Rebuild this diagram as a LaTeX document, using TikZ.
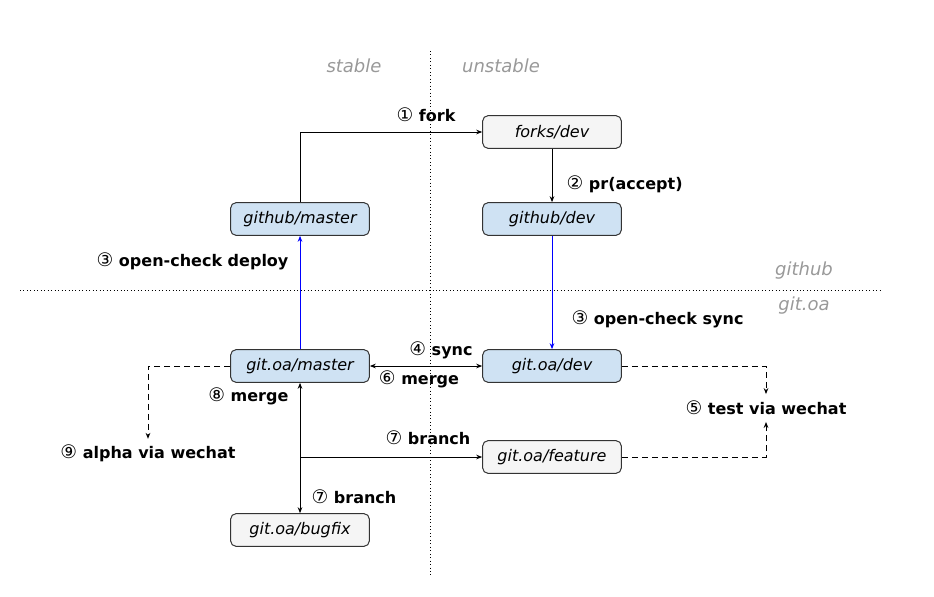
\documentclass[tikz,border=0pt]{standalone}
\usepackage{fontspec}
\setmainfont{DejaVu Sans}
\usepackage{tikz}
\usetikzlibrary{positioning, arrows.meta}
\definecolor{boxblue}{HTML}{CFE2F3}
\definecolor{boxgrey}{HTML}{F5F5F5}
\definecolor{boxline}{HTML}{333333}
\definecolor{zonegrey}{HTML}{999999}
\newcommand{\stepno}[1]{{\mdseries\fontsize{14}{14}\selectfont #1}}

\begin{document}
\begin{tikzpicture}[
    % one unit is one pixel of the sketch
    x=0.75pt, y=-0.75pt,
    >={Stealth[length=4.5pt,width=3.5pt]},
    block/.style={rectangle, draw=boxline, line width=0.75pt, rounded corners=4pt, minimum width=104pt, minimum height=24.5pt, text centered, font=\fontsize{12}{14}\selectfont\itshape},
    blueblock/.style={block, fill=boxblue},
    greyblock/.style={block, fill=boxgrey},
    steplabel/.style={inner sep=1pt, font=\fontsize{12}{14}\selectfont\bfseries},
    zone/.style={text=zonegrey, font=\fontsize{13.5}{16}\selectfont\itshape},
    arrow/.style={line width=0.75pt,->},
    bluearrow/.style={arrow, draw=blue},
    dasharrow/.style={arrow, dash pattern=on 4.5pt off 3pt},
    divider/.style={dotted, line width=0.6pt}
]
\useasboundingbox (0,0) rectangle (934,596);
% Zones
\draw [divider] (430,51) -- (430,575);
\draw [divider] (20,290) -- (880,290);
\node (stable) [zone] at (354,66) {stable};
\node (unstable) [zone] at (501,66) {unstable};
\node (github) [zone] at (804,271) {github};
\node (gitoa) [zone] at (804,306) {git.oa};
% Blocks
\node (forks) [greyblock] at (552,132) {forks/dev};
\node (ghdev) [blueblock] at (552,219) {github/dev};
\node (ghmaster) [blueblock] at (300,219) {github/master};
\node (gomaster) [blueblock] at (300,366) {git.oa/master};
\node (godev) [blueblock] at (552,366) {git.oa/dev};
\node (feature) [greyblock] at (552,457) {git.oa/feature};
\node (bugfix) [greyblock] at (300,530) {git.oa/bugfix};
% Labels
\node (fork) [steplabel] at (426,115) {\stepno{①} fork};
\node (pr) [steplabel, anchor=west] at (565,184) {\stepno{②} pr(accept)};
\node (deploy) [steplabel, anchor=east] at (290,261) {\stepno{③} open-check deploy};
\node (sync) [steplabel, anchor=west] at (570,319) {\stepno{③} open-check sync};
\node (syncdev) [steplabel] at (441,350) {\stepno{④} sync};
\node (mergedev) [steplabel] at (419,379) {\stepno{⑥} merge};
\node (mergefix) [steplabel, anchor=east] at (290,396) {\stepno{⑧} merge};
\node (alpha) [steplabel] at (148,453) {\stepno{⑨} alpha via wechat};
\node (test) [steplabel] at (766,408) {\stepno{⑤} test via wechat};
\node (brfeature) [steplabel] at (428,438) {\stepno{⑦} branch};
\node (brfix) [steplabel] at (354,497) {\stepno{⑦} branch};
% Arrows
\draw [arrow] (ghmaster.north) |- (forks.west);
\draw [arrow] (forks.south) -- (ghdev.north);
\draw [bluearrow] (ghdev.south) -- (godev.north);
\draw [bluearrow] (gomaster.north) -- (ghmaster.south);
\draw [arrow, <->] (gomaster.east) -- (godev.west);
\draw [arrow, <->] (gomaster.south) -- (bugfix.north);
\draw [arrow] (gomaster.south |- feature.west) -- (feature.west);
\draw [dasharrow, shorten >=3pt] (gomaster.west) -| (alpha.north);
\draw [dasharrow, shorten >=4pt] (godev.east) -| (test.north);
\draw [dasharrow, shorten >=4pt] (feature.east) -| (test.south);
\end{tikzpicture}
\end{document}
